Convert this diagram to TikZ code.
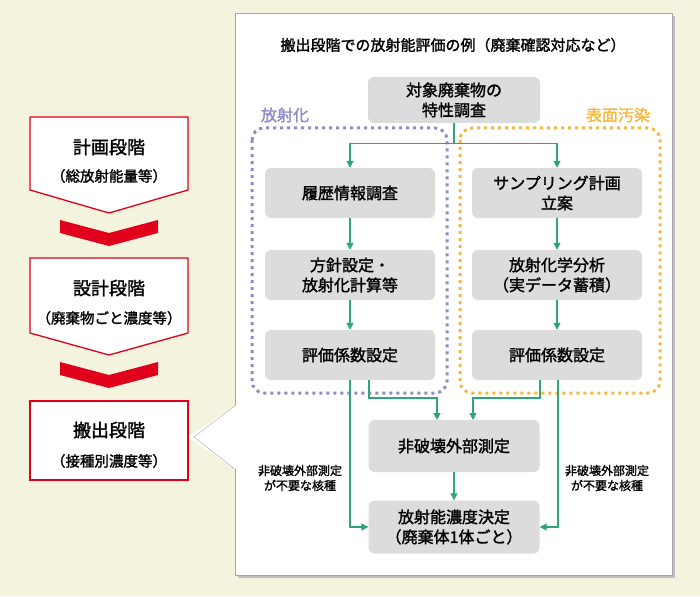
\documentclass[tikz,border=0pt]{standalone}
\usepackage{fontspec}
\setmainfont{Noto Sans CJK JP}[AutoFakeBold=1.6]
\usetikzlibrary{arrows.meta}
\definecolor{bgc}{HTML}{F4F4DE}
\definecolor{grn}{HTML}{2EA57A}
\definecolor{gbox}{HTML}{DCDCDC}
\definecolor{pur}{HTML}{8E8CC8}
\definecolor{org}{HTML}{F5B83C}
\definecolor{rd}{HTML}{E0001B}
\tikzset{
 gb/.style={fill=gbox,rounded corners=6pt,align=center,font=\fontsize{16}{20}\selectfont\bfseries,inner sep=0pt},
 ar/.style={draw=grn,line width=1.2pt,-{Triangle[length=7pt,width=7pt]}},
 stage/.style={align=center,font=\fontsize{18}{20}\selectfont\bfseries},
 sub/.style={font=\fontsize{14.5}{16}\selectfont\bfseries},
 sm/.style={align=center,font=\fontsize{12}{15}\selectfont\bfseries}
}
\begin{document}
\begin{tikzpicture}[x=1pt,y=-1pt]
\useasboundingbox (0,0) rectangle (700,596);
\fill[bgc] (0,0) rectangle (700,596);
% panel
\fill[gray!50] (238,16) rectangle (675,578);
\draw[gray!70,fill=white] (235,13) rectangle (672,575);
% left stages
\draw[rd,line width=1.3pt,fill=white] (30,117) -- (188,117) -- (188,190) -- (109,213) -- (30,190) -- cycle;
\node[stage] (s1) at (109,147) {計画段階};
\node[sub] (s1b) at (109,176) {（総放射能量等）};
\fill[rd] (60,220) -- (109,233) -- (158,220) -- (158,233) -- (109,246) -- (60,233) -- cycle;
\draw[rd,line width=1.3pt,fill=white] (30,258) -- (188,258) -- (188,333) -- (109,355) -- (30,333) -- cycle;
\node[stage] (s2) at (109,288) {設計段階};
\node[sub] (s2b) at (109,318) {（廃棄物ごと濃度等）};
\fill[rd] (60,362) -- (109,375) -- (158,362) -- (158,375) -- (109,388) -- (60,375) -- cycle;
\fill[white] (188,437) -- (236,405) -- (236,470) -- cycle;
\draw[gray!70] (236,405) -- (194,437) -- (236,470);
\draw[rd,line width=2.2pt,fill=white] (30,401) rectangle (188,480);
\node[stage] (s3) at (109,430) {搬出段階};
\node[sub] (s3b) at (109,461) {（接種別濃度等）};
% title
\node[font=\fontsize{15}{17}\selectfont\bfseries] (title) at (453,45) {搬出段階での放射能評価の例（廃棄確認対応など）};
% dotted groups
\draw[pur,line width=3pt,dash pattern=on 3pt off 4pt,rounded corners=12pt] (252,128) rectangle (447,393);
\draw[org,line width=3pt,dash pattern=on 3pt off 4pt,rounded corners=12pt] (460,128) rectangle (660,393);
\node[pur,font=\fontsize{16}{18}\selectfont\bfseries] (lp) at (285,115) {放射化};
\node[org,font=\fontsize{16}{18}\selectfont\bfseries] (lo) at (618,115) {表面汚染};
% boxes
\node[gb,minimum width=172pt,minimum height=46pt] (top) at (454,100) {対象廃棄物の\\特性調査};
\node[gb,minimum width=170pt,minimum height=50pt] (a1) at (350,193) {履歴情報調査};
\node[gb,minimum width=170pt,minimum height=50pt] (a2) at (350,275) {方針設定・\\放射化計算等};
\node[gb,minimum width=170pt,minimum height=50pt] (a3) at (350,355) {評価係数設定};
\node[gb,minimum width=170pt,minimum height=50pt] (b1) at (557,193) {サンプリング計画\\立案};
\node[gb,minimum width=170pt,minimum height=50pt] (b2) at (557,275) {放射化学分析\\（実データ蓄積）};
\node[gb,minimum width=170pt,minimum height=50pt] (b3) at (557,355) {評価係数設定};
\node[gb,minimum width=171pt,minimum height=52pt] (nd) at (454,446) {非破壊外部測定};
\node[gb,minimum width=171pt,minimum height=53pt] (fin) at (454,527) {放射能濃度決定\\（廃棄体1体ごと）};
\node[sm] (l1) at (300,478) {非破壊外部測定\\が不要な核種};
\node[sm] (l2) at (607,478) {非破壊外部測定\\が不要な核種};
% arrows
\draw[ar] (top.south) -- ++(0,20) -| (a1.north);
\draw[ar] (top.south) -- ++(0,20) -| (b1.north);
\draw[ar] (a1) -- (a2);
\draw[ar] (a2) -- (a3);
\draw[ar] (b1) -- (b2);
\draw[ar] (b2) -- (b3);
\draw[ar] (a3.south -| 369,0) -- (369,398) -| (437,420);
\draw[ar] (b3.south -| 540,0) -- (540,398) -| (473,420);
\draw[ar] (nd) -- (fin);
\draw[ar] (a3.south) -- (350,527) -- (fin.west);
\draw[ar] (b3.south -| 558,0) -- (558,527) -- (fin.east);
\end{tikzpicture}
\end{document}
